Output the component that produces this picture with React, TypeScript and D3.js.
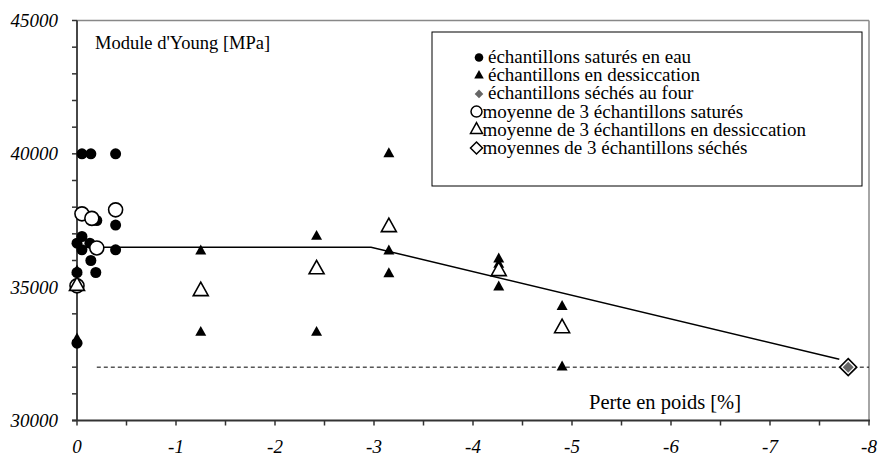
import React from "react";
import * as d3 from "d3";

const satX = [0, 0, 0, -0.05, -0.05, -0.05, -0.14, -0.13, -0.14, -0.19, -0.2, -0.39, -0.39, -0.39];
const satY = [32900, 35550, 36650, 36900, 36400, 40000, 40000, 36650, 36000, 35550, 37500, 40000, 37330, 36400];

const desX = [0, 0, -1.25, -1.25, -2.42, -2.42, -3.15, -3.15, -3.15, -4.26, -4.26, -4.26, -4.9, -4.9];
const desY = [35600, 33050, 36350, 33300, 36900, 33300, 40000, 36350, 35500, 36050, 35850, 35000, 34270, 32000];

const ovenX = [-7.79];
const ovenY = [32000];

const satMeanX = [0, -0.05, -0.15, -0.2, -0.39];
const satMeanY = [35050, 37750, 37580, 36470, 37900];

const desMeanX = [0, -1.25, -2.42, -3.15, -4.26, -4.9];
const desMeanY = [35050, 34850, 35670, 37250, 35600, 33460];

const ovenMeanX = [-7.79];
const ovenMeanY = [32000];

const trendX = [0, -2.97, -7.7];
const trendY = [36500, 36500, 32300];

const refLineX = [-0.2, -8];
const refLineY = [32000, 32000];

const xTicks = [0, -1, -2, -3, -4, -5, -6, -7, -8];
const yTicks = [30000, 35000, 40000, 45000];

const legendLabels = [
  "échantillons saturés en eau",
  "échantillons en dessiccation",
  "échantillons séchés au four",
  "moyenne de 3 échantillons saturés",
  "moyenne de 3 échantillons en dessiccation",
  "moyennes de 3 échantillons séchés",
];

const W = 878;
const H = 458;
const L = 77;
const R = 869;
const T = 20.5;
const B = 420.5;

const x = d3.scaleLinear().domain([0, -8]).range([L, R]);
const y = d3.scaleLinear().domain([30000, 45000]).range([B, T]);

const FF = "Liberation Serif";

function tri(cx: number, cy: number, s: number) {
  const h = s * 0.9;
  return `M${cx},${cy - (2 * h) / 3}L${cx + s / 2},${cy + h / 3}L${cx - s / 2},${cy + h / 3}Z`;
}
function dia(cx: number, cy: number, s: number) {
  return `M${cx},${cy - s}L${cx + s},${cy}L${cx},${cy + s}L${cx - s},${cy}Z`;
}

export default function App() {
  const line = d3.line<number>().x((d) => x(trendX[d])).y((d) => y(trendY[d]));
  const yMinor = d3.range(30000, 45001, 1000);
  const xMinor = d3.range(0, -8.01, -0.5);
  const legX = 432;
  const legY = 32;
  const baseY = 63;
  const step = 18.2;
  return (
    <div>
      <svg width={W} height={H} style={{ position: "absolute", left: 0, top: 0 }}>
        <rect x={0} y={0} width={W} height={H} fill="#fff" />
        <line x1={L} x2={R} y1={T} y2={T} stroke="#888" strokeWidth={1.5} />
        <line x1={R} x2={R} y1={T} y2={B} stroke="#888" strokeWidth={1.5} />
        <line x1={x(refLineX[0])} x2={x(refLineX[1])} y1={y(refLineY[0])} y2={y(refLineY[1])} stroke="#000" strokeWidth={1} strokeDasharray="4,3" />
        <path d={line(d3.range(trendX.length)) || ""} fill="none" stroke="#000" strokeWidth={1.5} />
        <line x1={L} x2={L} y1={T} y2={B + 0.5} stroke="#333" strokeWidth={1.8} />
        <line x1={L - 5} x2={R + 1} y1={B} y2={B} stroke="#333" strokeWidth={1.8} />
        {yMinor.map((v) => (
          <line key={"yt" + v} x1={L - 5} x2={L} y1={y(v)} y2={y(v)} stroke="#333" strokeWidth={1.5} />
        ))}
        {xMinor.map((v) => (
          <line key={"xt" + v} x1={x(v)} x2={x(v)} y1={B} y2={B + 5} stroke="#333" strokeWidth={1.5} />
        ))}
        {yTicks.map((v) => (
          <text key={"yl" + v} x={58} y={y(v) + 6.5} textAnchor="end" fontFamily={FF} fontStyle="italic" fontSize={19}>
            {v}
          </text>
        ))}
        {xTicks.map((v) => (
          <text key={"xl" + v} x={x(v)} y={453} textAnchor="middle" fontFamily={FF} fontStyle="italic" fontSize={19}>
            {v}
          </text>
        ))}
        <text x={95} y={49} fontFamily={FF} fontSize={18.5}>Module d'Young [MPa]</text>
        <text x={589} y={409} fontFamily={FF} fontSize={20.5}>Perte en poids [%]</text>

        {satX.map((v, i) => (
          <circle key={"s" + i} cx={x(v)} cy={y(satY[i])} r={5.5} fill="#000" />
        ))}
        {desX.map((v, i) => (
          <path key={"d" + i} d={tri(x(v), y(desY[i]), 11)} fill="#000" />
        ))}
        {satMeanX.map((v, i) => (
          <circle key={"sm" + i} cx={x(v)} cy={y(satMeanY[i])} r={7} fill="#fff" stroke="#000" strokeWidth={1.6} />
        ))}
        {desMeanX.map((v, i) => (
          <path key={"dm" + i} d={tri(x(v), y(desMeanY[i]), 15)} fill="#fff" stroke="#000" strokeWidth={1.6} />
        ))}
        {ovenMeanX.map((v, i) => (
          <path key={"om" + i} d={dia(x(v), y(ovenMeanY[i]), 8.5)} fill="#fff" stroke="#000" strokeWidth={1.6} />
        ))}
        {ovenX.map((v, i) => (
          <path key={"o" + i} d={dia(x(v), y(ovenY[i]), 5.5)} fill="#666" />
        ))}

        <rect x={legX} y={legY} width={430} height={154} fill="#fff" stroke="#000" strokeWidth={1} />
        <circle cx={479} cy={baseY - 5.5} r={4.3} fill="#000" />
        <path d={tri(479, baseY + step - 5.5, 9.5)} fill="#000" />
        <path d={dia(479, baseY + 2 * step - 5.5, 4.3)} fill="#666" />
        <circle cx={476.5} cy={baseY + 3 * step - 6} r={5.5} fill="#fff" stroke="#000" strokeWidth={1.5} />
        <path d={tri(476.5, baseY + 4 * step - 6, 12)} fill="#fff" stroke="#000" strokeWidth={1.5} />
        <path d={dia(476.5, baseY + 5 * step - 6, 6)} fill="#fff" stroke="#000" strokeWidth={1.5} />
        {legendLabels.map((t, i) => (
          <text key={"lg" + i} x={i < 3 ? 488 : 482.5} y={baseY + i * step} fontFamily={FF} fontSize={19}>
            {t}
          </text>
        ))}
      </svg>
    </div>
  );
}
